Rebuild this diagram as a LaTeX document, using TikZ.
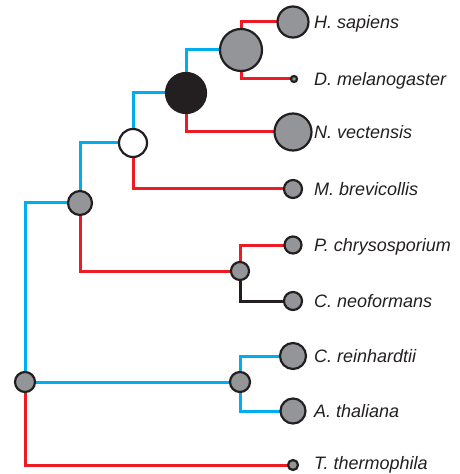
\documentclass[tikz,border=0pt]{standalone}
\usepackage{fontspec}
\setmainfont{Liberation Sans}
\usetikzlibrary{backgrounds}
\definecolor{cblue}{RGB}{0,174,239}
\definecolor{cred}{RGB}{237,28,36}
\definecolor{cgray}{RGB}{147,149,152}
\definecolor{cdark}{RGB}{35,31,32}
\tikzset{
  nd/.style={circle,draw=cdark,line width=2.2bp,fill=cgray,inner sep=0pt,minimum size=#1},
  wnd/.style={circle,draw=cdark,line width=2.2bp,fill=white,inner sep=0pt,minimum size=#1},
  bnd/.style={circle,draw=cdark,line width=2.2bp,fill=cdark,inner sep=0pt,minimum size=#1},
  lbl/.style={anchor=base west,inner sep=0pt,font=\fontsize{18bp}{20bp}\selectfont\itshape,text=cdark},
  eb/.style={draw=cblue,line width=3bp},
  er/.style={draw=cred,line width=3bp},
  ek/.style={draw=cdark,line width=3bp}
}
\begin{document}
\begin{tikzpicture}[x=1bp,y=-1bp]
\useasboundingbox (0,0) rectangle (460,474);
% internal nodes
\node[nd=20bp] (R) at (25,382) {};
\node[nd=20bp] (P) at (240,382) {};
\node[nd=24bp] (O) at (80,203) {};
\node[nd=18bp] (F) at (240,271) {};
\node[wnd=28bp] (W) at (133,143) {};
\node[bnd=40bp] (B) at (186,93) {};
\node[nd=42bp] (G) at (241,50) {};
% leaves
\node[nd=31bp] (Hs) at (293,22) {};
\node[nd=6bp] (Dm) at (294,79) {};
\node[nd=37bp] (Nv) at (293,132) {};
\node[nd=18bp] (Mb) at (293,189) {};
\node[nd=17bp] (Pc) at (293,245) {};
\node[nd=18bp] (Cn) at (293,301) {};
\node[nd=26bp] (Cr) at (293,356) {};
\node[nd=25bp] (At) at (293,411) {};
\node[nd=10bp] (Tt) at (293,465) {};
% labels
\node[lbl] (lHs) at (314,28.5) {H. sapiens};
\node[lbl] (lDm) at (314,85.5) {D. melanogaster};
\node[lbl] (lNv) at (314,138.5) {N. vectensis};
\node[lbl] (lMb) at (314,195.5) {M. brevicollis};
\node[lbl] (lPc) at (314,251.5) {P. chrysosporium};
\node[lbl] (lCn) at (314,307.5) {C. neoformans};
\node[lbl] (lCr) at (314,362.5) {C. reinhardtii};
\node[lbl] (lAt) at (314,417.5) {A. thaliana};
\node[lbl] (lTt) at (314,469.5) {T. thermophila};
\begin{pgfonlayer}{background}
\draw[eb] (R.center) |- (O.center);
\draw[eb] (R.center) -- (P.center);
\draw[er] (R.center) |- (Tt.center);
\draw[eb] (P.center) |- (Cr.center);
\draw[eb] (P.center) |- (At.center);
\draw[eb] (O.center) |- (W.center);
\draw[er] (O.center) |- (F.center);
\draw[er] (F.center) |- (Pc.center);
\draw[ek] (F.center) |- (Cn.center);
\draw[eb] (W.center) |- (B.center);
\draw[er] (W.center) |- (Mb.center);
\draw[eb] (B.center) |- (G.center);
\draw[er] (B.center) |- (Nv.center);
\draw[er] (G.center) |- (Hs.center);
\draw[er] (G.center) |- (Dm.center);
\end{pgfonlayer}
\end{tikzpicture}
\end{document}
